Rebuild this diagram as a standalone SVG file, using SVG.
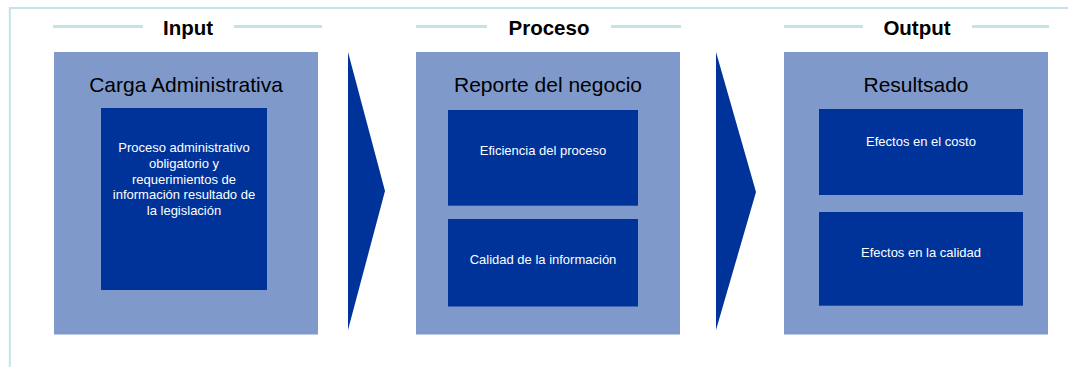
<svg xmlns="http://www.w3.org/2000/svg" width="1068" height="367" viewBox="0 0 1068 367">
<style>
.frame{stroke:#c3e3e7;stroke-width:2;fill:none}
.hl{stroke:#c3e3e7;stroke-width:3}
.hdr{font-family:"Liberation Sans",Arial,sans-serif;font-weight:bold;font-size:20.5px;fill:#000;text-anchor:middle}
.outer{fill:#7f99cb}
.inner{fill:#003399}
.ttl{font-family:"Liberation Sans",Arial,sans-serif;font-size:21px;fill:#000;text-anchor:middle}
.txt{font-family:"Liberation Sans",Arial,sans-serif;font-size:13px;fill:#fff;text-anchor:middle}
.arrow{fill:#003399}
</style>
<rect width="1068" height="367" fill="#fff"/>
<path class="frame" d="M9.8,367 V8 H1068"/>
<g id="headers">
<line class="hl" x1="53" y1="26.5" x2="143" y2="26.5"/>
<line class="hl" x1="234" y1="26.5" x2="322" y2="26.5"/>
<text class="hdr" x="188" y="35">Input</text>
<line class="hl" x1="416" y1="26.5" x2="487" y2="26.5"/>
<line class="hl" x1="611" y1="26.5" x2="681" y2="26.5"/>
<text class="hdr" x="549" y="35">Proceso</text>
<line class="hl" x1="784" y1="26.5" x2="863" y2="26.5"/>
<line class="hl" x1="972" y1="26.5" x2="1049" y2="26.5"/>
<text class="hdr" x="917" y="35">Output</text>
</g>
<g id="input">
<rect class="outer" x="54" y="52" width="264" height="282.5"/>
<text class="ttl" x="186" y="92">Carga Administrativa</text>
<rect class="inner" x="101" y="108" width="166" height="182"/>
<text class="txt" x="184" y="152.3">Proceso administrativo</text>
<text class="txt" x="184" y="167.9">obligatorio y</text>
<text class="txt" x="184" y="183.5">requerimientos de</text>
<text class="txt" x="184" y="199.1">información resultado de</text>
<text class="txt" x="184" y="214.7">la legislación</text>
</g>
<g id="proceso">
<rect class="outer" x="416" y="52" width="264" height="282.5"/>
<text class="ttl" x="548" y="92">Reporte del negocio</text>
<rect class="inner" x="448" y="110" width="190" height="95.7"/>
<text class="txt" x="543" y="155">Eficiencia del proceso</text>
<rect class="inner" x="448" y="219" width="190" height="87.5"/>
<text class="txt" x="543" y="264">Calidad de la información</text>
</g>
<g id="output">
<rect class="outer" x="784" y="52" width="264" height="282.5"/>
<text class="ttl" x="916" y="92">Resultsado</text>
<rect class="inner" x="819" y="109" width="204" height="86"/>
<text class="txt" x="921" y="146">Efectos en el costo</text>
<rect class="inner" x="819" y="212" width="204" height="93.7"/>
<text class="txt" x="921" y="257">Efectos en la calidad</text>
</g>
<g id="connectors">
<polygon class="arrow" points="348,52 385,191 348,330"/>
<polygon class="arrow" points="716,52 756,192 716,330"/>
</g>
</svg>
